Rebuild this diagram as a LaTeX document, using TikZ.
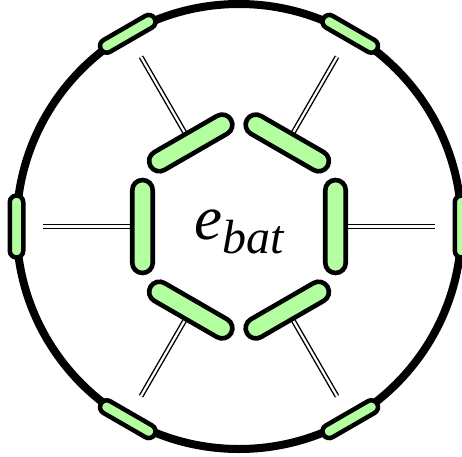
\documentclass[tikz,border=0pt]{standalone}
\usepackage{fontspec}
\setmainfont{Liberation Serif}
\usetikzlibrary{calc}
\definecolor{pillgreen}{HTML}{B3FFA0}
\begin{document}
\begin{tikzpicture}[x=1pt,y=1pt,
  innerpill/.style={draw=black, fill=pillgreen, line width=4.6pt, rectangle,
    minimum width=93pt, minimum height=20.5pt, rounded corners=10.25pt, inner sep=0pt},
  outerpill/.style={draw=black, fill=pillgreen, line width=4.5pt, rectangle,
    minimum width=62pt, minimum height=13.5pt, rounded corners=6.75pt, inner sep=0pt},
  dbl/.style={draw=black, line width=1.4pt, double=white, double distance=2.2pt},
  ring/.style={draw=black, line width=8pt}]
\useasboundingbox (0,0) rectangle (462,456);
\coordinate (c) at (239,229.5);
\node[ring, circle, minimum size=445pt, inner sep=0pt] (ring) at (c) {};
\foreach \a [count=\i] in {0,60,120,180,240,300}{
  \coordinate (e\i) at ($(c)+(\a:196)$);
  \coordinate (s\i) at ($(c)+(\a:100)$);
  \draw[dbl] (s\i) -- (e\i);
  \node[innerpill, rotate=\a+90] (p\i) at ($(c)+(\a:96.5)$) {};
  \node[outerpill, rotate=\a+90] (o\i) at ($(c)+(\a:222.5)$) {};
}
\node (lbl) at ($(c)+(0,-5)$) {\itshape\fontsize{63}{63}\selectfont e\raisebox{-14pt}{\fontsize{48}{48}\selectfont bat}};
\end{tikzpicture}
\end{document}
